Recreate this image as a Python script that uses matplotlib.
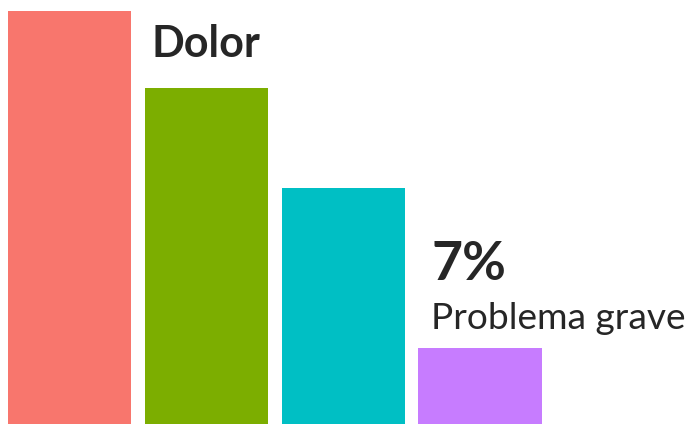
import matplotlib.pyplot as plt
import numpy as np

plt.rcParams["font.family"] = ["Lato", "DejaVu Sans"]

# porcentajes por categoría
categorias = ["A", "B", "C", "D"]
valores = [38, 30.9, 21.7, 7]
colores = ["#F8766D", "#7CAE00", "#00BFC4", "#C77CFF"]

fig = plt.figure(figsize=(6.92, 4.24), dpi=100)
ax = fig.add_axes([0, 0, 1, 1])

x = np.arange(1, len(valores) + 1)
ax.bar(x, valores, width=0.9, color=colores)

ax.set_xlim(0.49, 5.55)
ax.set_ylim(0, 39.04)
ax.axis("off")

# etiquetas de texto
ax.annotate("Dolor", xy=(x[1] - 0.45, valores[1]), xytext=(7, 31),
            textcoords="offset pixels", fontsize=31, fontweight="bold",
            color="#262626", ha="left", va="baseline")
ax.annotate("%d%%" % valores[3], xy=(x[3] - 0.45, valores[3]), xytext=(13, 68),
            textcoords="offset pixels", fontsize=38.5, fontweight="bold",
            color="#262626", ha="left", va="baseline")
ax.annotate("Problema grave", xy=(x[3] - 0.45, valores[3]), xytext=(13, 19),
            textcoords="offset pixels", fontsize=26.7, color="#262626",
            ha="left", va="baseline")

fig.savefig("out.png", dpi=100)
